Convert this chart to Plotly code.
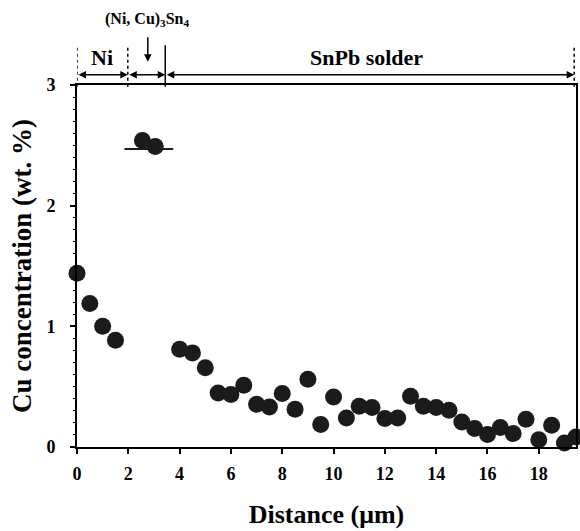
import plotly.graph_objects as go

# ---- data ----
ni_x = [0.0, 0.5, 1.0, 1.5]
ni_y = [1.44, 1.19, 1.00, 0.885]

imc_x = [2.55, 3.05]
imc_y = [2.54, 2.49]
imc_line_x = [1.85, 3.75]
imc_line_y = [2.47, 2.47]

solder_x = [4.0, 4.5, 5.0, 5.5, 6.0, 6.5, 7.0, 7.5, 8.0, 8.5, 9.0, 9.5, 10.0, 10.5,
            11.0, 11.5, 12.0, 12.5, 13.0, 13.5, 14.0, 14.5, 15.0, 15.5, 16.0, 16.5,
            17.0, 17.5, 18.0, 18.5, 19.0, 19.45]
solder_y = [0.81, 0.78, 0.656, 0.448, 0.435, 0.512, 0.354, 0.332, 0.443, 0.313, 0.562,
            0.186, 0.415, 0.241, 0.338, 0.327, 0.236, 0.241, 0.42, 0.338, 0.327, 0.305,
            0.207, 0.153, 0.103, 0.161, 0.111, 0.23, 0.061, 0.18, 0.033, 0.083]

x_ticks = [0, 2, 4, 6, 8, 10, 12, 14, 16, 18]
y_ticks = [0, 1, 2, 3]

region_bounds = [0.0, 1.98, 3.44, 19.38]
region_labels = ["Ni", "(Ni, Cu)<sub>3</sub>Sn<sub>4</sub>", "SnPb solder"]

FONT = "Liberation Serif"
MS = 17
MC = "#1b1b1b"

fig = go.Figure()
fig.add_trace(go.Scatter(x=imc_line_x, y=imc_line_y, mode="lines",
                         line=dict(color=MC, width=2), showlegend=False,
                         cliponaxis=False, hoverinfo="skip"))
for xs, ys in [(ni_x, ni_y), (imc_x, imc_y), (solder_x, solder_y)]:
    fig.add_trace(go.Scatter(x=xs, y=ys, mode="markers",
                             marker=dict(size=MS, color=MC, line=dict(width=0)),
                             showlegend=False, cliponaxis=False))

# region bracket lines
y_top, y_bot, y_arrow = 1.11, 0.995, 1.028
dashes = ["dot", "dot", "solid", "dot"]
for b, d in zip(region_bounds, dashes):
    fig.add_shape(type="line", xref="x", yref="paper", x0=b, x1=b, y0=y_bot, y1=y_top,
                  line=dict(color="black", width=1.5, dash=d))

annotations = []
for a, b in zip(region_bounds[:-1], region_bounds[1:]):
    annotations.append(dict(x=b, y=y_arrow, xref="x", yref="paper", ax=a, ay=0,
                            axref="x", ayref="pixel", text="", showarrow=True,
                            arrowhead=2, arrowside="end+start", arrowsize=1,
                            arrowwidth=1.5, arrowcolor="black", standoff=0,
                            startstandoff=0))
# Ni label
annotations.append(dict(x=(region_bounds[0] + region_bounds[1]) / 2, y=1.077, xref="x",
                        yref="paper", yanchor="middle",
                        text="<b>%s</b>" % region_labels[0], showarrow=False,
                        font=dict(family=FONT, size=22, color="black")))
# SnPb label
annotations.append(dict(x=11.3, y=1.077, xref="x", yref="paper", yanchor="middle",
                        text="<b>%s</b>" % region_labels[2], showarrow=False,
                        font=dict(family=FONT, size=22, color="black")))
# IMC label with downward arrow
imc_mid = 2.76
annotations.append(dict(x=imc_mid, y=1.18, xref="x", yref="paper", yanchor="middle",
                        text="<b>%s</b>" % region_labels[1], showarrow=False,
                        font=dict(family=FONT, size=16, color="black")))
annotations.append(dict(x=imc_mid, y=1.064, xref="x", yref="paper", ax=0, ay=-26,
                        text="", showarrow=True, arrowhead=2, arrowsize=1,
                        arrowwidth=1.5, arrowcolor="black", standoff=0))

fig.update_layout(
    width=580, height=531,
    margin=dict(l=77, r=2, t=85, b=84),
    paper_bgcolor="white", plot_bgcolor="white",
    annotations=annotations,
    font=dict(family=FONT, color="black"),
)
fig.update_xaxes(range=[0, 19.45], tickvals=x_ticks, ticks="outside", ticklen=5,
                 tickwidth=1.5, tickcolor="black", showline=True, linewidth=2,
                 linecolor="black", mirror=True, showgrid=False, zeroline=False,
                 ticklabelstandoff=4,
                 tickfont=dict(family=FONT, size=18, weight="bold"),
                 title=dict(text="<b>Distance (μm)</b>",
                            font=dict(family=FONT, size=26), standoff=22))
fig.update_yaxes(range=[0, 3], tickvals=y_ticks, ticks="outside", ticklen=5,
                 tickwidth=1.5, tickcolor="black", showline=True, linewidth=2,
                 linecolor="black", mirror=True, showgrid=False, zeroline=False,
                 ticklabelstandoff=11,
                 minor=dict(ticks="outside", ticklen=2, dtick=0.1, tickcolor="black",
                            tickwidth=1),
                 tickfont=dict(family=FONT, size=18, weight="bold"),
                 title=dict(text="<b>Cu concentration (wt. %)</b>",
                            font=dict(family=FONT, size=27), standoff=7))

fig.write_html("out.html")
